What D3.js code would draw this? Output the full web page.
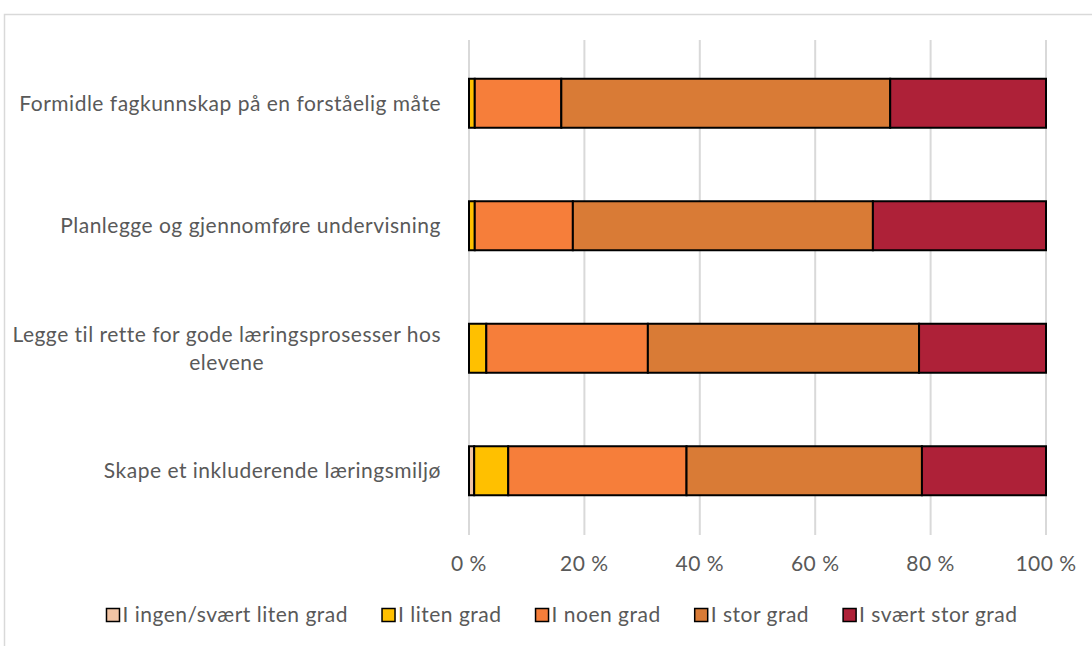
<!DOCTYPE html>
<html><head><meta charset="utf-8">
<script src="https://cdn.jsdelivr.net/npm/d3@7"></script>
<style>body{margin:0;background:#fff;} svg{display:block;}</style>
</head><body>
<svg id="c" width="1092" height="646"></svg>
<script>
const categories = [
  "Formidle fagkunnskap på en forståelig måte",
  "Planlegge og gjennomføre undervisning",
  "Legge til rette for gode læringsprosesser hos elevene",
  "Skape et inkluderende læringsmiljø"
];
const seriesNames = ["I ingen/svært liten grad","I liten grad","I noen grad","I stor grad","I svært stor grad"];
const ingen    = [0,   0,  0,  0.9];
const liten    = [1,   1,  3,  5.9];
const noen     = [15, 17, 28, 30.9];
const stor     = [57, 52, 47, 40.8];
const sværtStor= [27, 30, 22, 21.5];
const colors = ["#F2C4A4","#FFC000","#F67E3A","#D97B36","#AE2138"];
const tickValues = [0,20,40,60,80,100];
const tickLabels = ["0 %","20 %","40 %","60 %","80 %","100 %"];
const labelLines = [
  ["Formidle fagkunnskap på en forståelig måte"],
  ["Planlegge og gjennomføre undervisning"],
  ["Legge til rette for gode læringsprosesser hos","elevene"],
  ["Skape et inkluderende læringsmiljø"]
];

const svg = d3.select("#c");
const font = "Lato, 'Open Sans', sans-serif";
const fs = 21, ls = 0.5, txtCol = "#595959";
// frame
svg.append("path").attr("d","M4.5,646 L4.5,14.5 L1092,14.5").attr("fill","none").attr("stroke","#D9D9D9").attr("stroke-width",1.5);

const x = d3.scaleLinear().domain([0,100]).range([469,1046]);
const y = d3.scaleBand().domain(categories).range([42,532]).paddingInner(0.6).paddingOuter(0.3);

// gridlines
svg.append("g").selectAll("line").data(tickValues).join("line")
  .attr("x1",d=>x(d)).attr("x2",d=>x(d)).attr("y1",40).attr("y2",535)
  .attr("stroke","#D9D9D9").attr("stroke-width",2);

const data = categories.map((c,i)=>({cat:c, ingen:ingen[i], liten:liten[i], noen:noen[i], stor:stor[i], sstor:sværtStor[i]}));
const keys = ["ingen","liten","noen","stor","sstor"];
const stacked = d3.stack().keys(keys)(data);

svg.append("g").selectAll("g").data(stacked).join("g")
  .attr("fill",(d,i)=>colors[i])
  .selectAll("rect").data(d=>d.filter(p=>p[1]-p[0]>0)).join("rect")
  .attr("x",d=>x(d[0])).attr("width",d=>x(d[1])-x(d[0]))
  .attr("y",d=>y(d.data.cat)).attr("height",y.bandwidth())
  .attr("stroke","#000").attr("stroke-width",2);

function txt(g){
  return g.append("text").attr("font-family",font).attr("font-size",fs)
    .attr("letter-spacing",ls).attr("fill",txtCol).attr("dy","0.35em");
}

// category labels
const lab = svg.append("g");
const rightX = 441;
categories.forEach((c,i)=>{
  const lines = labelLines[i];
  const cy = y(c)+y.bandwidth()/2;
  const lh = 28;
  if(lines.length===1){
    txt(lab).attr("x",rightX).attr("y",cy).attr("text-anchor","end").text(lines[0]);
  } else {
    const t0 = txt(lab).attr("x",rightX).attr("y",cy-lh/2).attr("text-anchor","end").text(lines[0]);
    const w = t0.node().getComputedTextLength();
    txt(lab).attr("x",rightX-w/2).attr("y",cy+lh/2).attr("text-anchor","middle").text(lines[1]);
  }
});

// x tick labels
const tg = svg.append("g");
tickValues.forEach((d,i)=>{
  txt(tg).attr("x",x(d)).attr("y",564).attr("text-anchor","middle").text(tickLabels[i]);
});

// legend
const leg = svg.append("g");
const sw = 13, gapT = 3, gapItem = 34, ly = 615;
const items = seriesNames.map((n,i)=>{
  const t = txt(leg).attr("y",ly).text(n);
  return {t, w:t.node().getComputedTextLength(), i};
});
const total = d3.sum(items,d=>sw+gapT+d.w) + gapItem*(items.length-1);
let cx = 562 - total/2;
items.forEach(d=>{
  leg.append("rect").attr("x",cx).attr("y",ly-sw/2).attr("width",sw).attr("height",sw)
    .attr("fill",colors[d.i]).attr("stroke","#000").attr("stroke-width",1.5);
  d.t.attr("x",cx+sw+gapT);
  cx += sw+gapT+d.w+gapItem;
});
</script>
</body></html>
